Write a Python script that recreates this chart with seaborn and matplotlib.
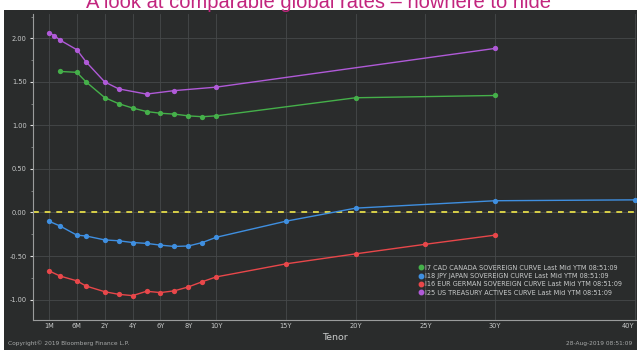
import numpy as np
import pandas as pd
import matplotlib
matplotlib.use("Agg")
import matplotlib.pyplot as plt
import seaborn as sns
from matplotlib.lines import Line2D
from matplotlib.patches import Rectangle

# Tenors in years
M1, M2, M3, M6 = 1 / 12, 2 / 12, 3 / 12, 6 / 12

us_tenor = [M1, M2, M3, M6, 1, 2, 3, 5, 7, 10, 30]
us_yield = [2.065, 2.03, 1.98, 1.87, 1.73, 1.50, 1.42, 1.36, 1.40, 1.44, 1.885]

cad_tenor = [M3, M6, 1, 2, 3, 4, 5, 6, 7, 8, 9, 10, 20, 30]
cad_yield = [1.62, 1.61, 1.50, 1.32, 1.25, 1.20, 1.16, 1.14, 1.13, 1.11, 1.10, 1.11, 1.318, 1.344]

jpy_tenor = [M1, M3, M6, 1, 2, 3, 4, 5, 6, 7, 8, 9, 10, 15, 20, 30, 40]
jpy_yield = [-0.10, -0.155, -0.26, -0.27, -0.315, -0.325, -0.345, -0.355, -0.375,
             -0.39, -0.385, -0.345, -0.285, -0.10, 0.05, 0.135, 0.145]

eur_tenor = [M1, M3, M6, 1, 2, 3, 4, 5, 6, 7, 8, 9, 10, 15, 20, 25, 30]
eur_yield = [-0.67, -0.73, -0.785, -0.845, -0.91, -0.94, -0.955, -0.905, -0.92,
             -0.90, -0.855, -0.795, -0.74, -0.59, -0.475, -0.365, -0.26]

curve_names = [
    "I7 CAD CANADA SOVEREIGN CURVE Last Mid YTM 08:51:09",
    "I18 JPY JAPAN SOVEREIGN CURVE Last Mid YTM 08:51:09",
    "I16 EUR GERMAN SOVEREIGN CURVE Last Mid YTM 08:51:09",
    "I25 US TREASURY ACTIVES CURVE Last Mid YTM 08:51:09",
]
curve_colors = ["#45b04a", "#3f8fe0", "#e8474a", "#b05ad8"]

tick_years = [M1, M6, 2, 4, 6, 8, 10, 15, 20, 25, 30, 40]
tick_labels = ["1M", "6M", "2Y", "4Y", "6Y", "8Y", "10Y", "15Y", "20Y", "25Y", "30Y", "40Y"]

frames = []
for name, t, y in zip(curve_names, [cad_tenor, jpy_tenor, eur_tenor, us_tenor],
                      [cad_yield, jpy_yield, eur_yield, us_yield]):
    frames.append(pd.DataFrame({"tenor": t, "yield": y, "curve": name}))
df = pd.concat(frames, ignore_index=True)

# Bloomberg style piecewise tenor axis
yr_pts = [-1, M1, M6, 2, 4, 6, 8, 10, 40, 50]
ix_pts = [-2.6, 0, 1, 2, 3, 4, 5, 6, 21, 26]


def fwd(x):
    return np.interp(x, yr_pts, ix_pts)


def inv(x):
    return np.interp(x, ix_pts, yr_pts)


panel = "#2a2c2c"
txt = "#c9cbcb"

fig = plt.figure(figsize=(6.37, 3.5), dpi=100)
fig.patch.set_facecolor("white")
fig.patches.append(Rectangle((4 / 637, 0), 1, 340 / 350, transform=fig.transFigure,
                             facecolor=panel, edgecolor="none", zorder=-5))

ax = fig.add_axes([33 / 637, 30 / 350, 603 / 637, 306 / 350])
ax.set_facecolor(panel)
ax.set_xscale("function", functions=(fwd, inv))

sns.lineplot(data=df, x="tenor", y="yield", hue="curve", hue_order=curve_names,
             palette=curve_colors, marker="o", markersize=3.8, markeredgewidth=0,
             linewidth=1.0, legend=False, ax=ax, zorder=3)

ax.axhline(0, color="#d8d048", linestyle=(0, (3, 3)), linewidth=1.4, zorder=2)

ax.set_xlim(inv(-0.57), 40.1)
ax.set_ylim(-1.235, 2.28)

ax.set_xticks(tick_years)
ax.set_xticklabels(tick_labels)
ax.xaxis.set_minor_locator(matplotlib.ticker.NullLocator())
ax.get_xticklabels()[-1].set_horizontalalignment("right")
ax.set_yticks(np.arange(-1.0, 2.01, 0.5))
ax.set_yticklabels([f"{v:.2f}" for v in np.arange(-1.0, 2.01, 0.5)])
ax.set_yticks(np.arange(-1.0, 2.26, 0.25), minor=True)

ax.grid(True, which="major", color="#46494a", linewidth=0.6)
ax.tick_params(axis="both", which="major", colors="#e0e0e0", labelcolor=txt,
               labelsize=4.8, length=2.5, width=0.8, pad=2)
ax.tick_params(axis="y", which="minor", colors="#8a8c8c", length=1.5, width=0.6)
ax.tick_params(axis="x", which="major", length=0)

for s in ["top", "right"]:
    ax.spines[s].set_visible(False)
for s in ["left", "bottom"]:
    ax.spines[s].set_color("#9a9c9c")
    ax.spines[s].set_linewidth(0.8)

ax.set_xlabel("Tenor", color=txt, fontsize=6.8, labelpad=3)
ax.set_ylabel("")

handles = [Line2D([], [], marker="o", linestyle="none", color=c, markersize=3.2)
           for c in curve_colors]
leg = ax.legend(handles, curve_names, loc="lower right", bbox_to_anchor=(0.985, 0.065),
                fontsize=4.7, frameon=False, handletextpad=0.2, labelspacing=0.35,
                borderpad=0.2, handlelength=0.8)
for t in leg.get_texts():
    t.set_color(txt)

fig.text(0.5, 1 - 8 / 350, "A look at comparable global rates \u2013 nowhere to hide",
         ha="center", va="baseline", color="#c2257e", fontsize=14.5,
         family="Liberation Sans")
fig.text(8 / 637, 4 / 350, "Copyright\u00a9 2019 Bloomberg Finance L.P.", color="#a8aaaa",
         fontsize=4.2, va="bottom")
fig.text(632 / 637, 4 / 350, "28-Aug-2019 08:51:09", color="#a8aaaa",
         fontsize=4.2, va="bottom", ha="right")

fig.savefig("out.png", dpi=100, facecolor=fig.get_facecolor())
